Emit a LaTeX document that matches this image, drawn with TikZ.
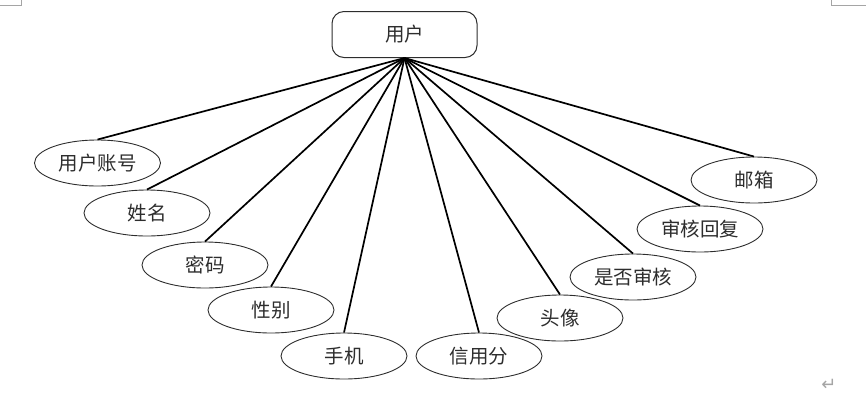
\documentclass[tikz,border=0pt]{standalone}
\usepackage{fontspec}
\newfontfamily\cjk{Noto Sans CJK SC}
\newfontfamily\symfont{DejaVu Sans}
\definecolor{markgray}{RGB}{165,165,165}
\definecolor{inkgray}{RGB}{45,45,45}
\usetikzlibrary{shapes,positioning}

\begin{document}
\begin{tikzpicture}[x=1pt, y=-1pt,
    entity/.style={rectangle, rounded corners=12pt, draw=inkgray, line width=1pt, minimum width=145pt, minimum height=46pt, text=inkgray, font=\cjk\fontsize{19.5}{21}\selectfont},
    attr/.style={ellipse, draw=inkgray, line width=0.9pt, minimum width=126pt, minimum height=46pt, inner sep=0pt, text=inkgray, font=\cjk\fontsize{19.5}{21}\selectfont},
    link/.style={line width=1.7pt}]
    \useasboundingbox (0,0) rectangle (866,408);

    % page corner marks
    \draw[markgray, line width=1pt] (21,0) -- (21,5) -- (0,5);
    \draw[markgray, line width=1pt] (831,0) -- (831,5) -- (866,5);
    \node[text=markgray, font=\symfont\fontsize{18}{18}\selectfont] (ret) at (829,385) {↵};

    \node[entity] (user) at (404.5,34.5) {用户};

    \node[attr] (account) at (97.5,163) {用户账号};
    \node[attr] (name) at (147,213) {姓名};
    \node[attr] (pwd) at (205,265) {密码};
    \node[attr] (gender) at (271,310) {性别};
    \node[attr] (phone) at (344,356) {手机};
    \node[attr] (credit) at (479,356) {信用分};
    \node[attr] (avatar) at (560,318) {头像};
    \node[attr] (audit) at (633,277) {是否审核};
    \node[attr] (reply) at (700,229) {审核回复};
    \node[attr] (email) at (754,180) {邮箱};

    \foreach \a in {account,name,pwd,gender,phone,credit,avatar,audit,reply,email}
        \draw[link] (user.south) -- (\a.north);
\end{tikzpicture}
\end{document}
